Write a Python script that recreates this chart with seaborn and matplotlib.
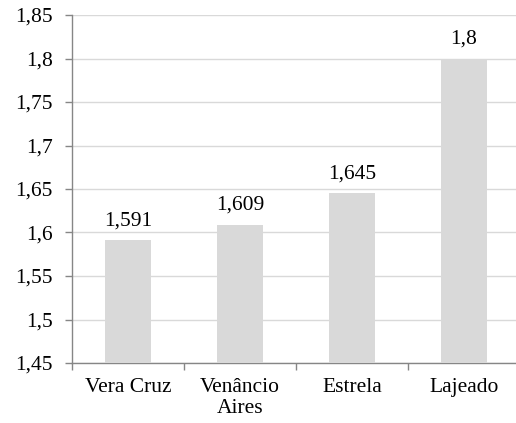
import matplotlib
matplotlib.use("Agg")
import matplotlib.pyplot as plt
import seaborn as sns
import pandas as pd
from matplotlib.ticker import FixedLocator

categories = ["Vera Cruz", "Venâncio\nAires", "Estrela", "Lajeado"]
values = [1.591, 1.609, 1.645, 1.8]
value_labels = ["1,591", "1,609", "1,645", "1,8"]
yticks = [1.45, 1.5, 1.55, 1.6, 1.65, 1.7, 1.75, 1.8, 1.85]
ytick_labels = ["1,45", "1,5", "1,55", "1,6", "1,65", "1,7", "1,75", "1,8", "1,85"]

sns.set_theme(style="white")
plt.rcParams['font.family'] = ['Liberation Serif', 'DejaVu Serif']

df = pd.DataFrame({"cat": categories, "val": values})

fig = plt.figure(figsize=(5.16, 4.23), dpi=100)
W, H = 516, 423
ax = fig.add_axes([72 / W, (H - 363) / H, (520 - 72) / W, (363 - 15) / H])

sns.barplot(data=df, x="cat", y="val", color="#d9d9d9", width=0.41,
            saturation=1, ax=ax, zorder=3)
for p in ax.patches:
    p.set_edgecolor("none")

FS = 15.5
ax.set_ylim(1.45, 1.85)
ax.set_xlim(-0.5, 3.5)
ax.set_yticks(yticks)
ax.set_yticklabels(ytick_labels, fontsize=FS, color="#000000")
ax.yaxis.grid(True, color="#d9d9d9", linewidth=1, zorder=0)
ax.set_axisbelow(True)

ax.set_xticks(range(len(categories)))
ax.set_xticklabels(categories, fontsize=FS, color="#000000", linespacing=1.1)
ax.xaxis.set_minor_locator(FixedLocator([-0.5, 0.5, 1.5, 2.5]))
ax.tick_params(axis="x", which="major", length=0, pad=11)
ax.tick_params(axis="x", which="minor", length=5, color="#868686", width=1, direction="out", bottom=True)
ax.tick_params(axis="y", length=5, color="#868686", width=1, direction="out", left=True, pad=9)

for s in ["top", "right"]:
    ax.spines[s].set_visible(False)
for s in ["left", "bottom"]:
    ax.spines[s].set_color("#868686")
    ax.spines[s].set_linewidth(1)

ax.set_xlabel("")
ax.set_ylabel("")

for i, (v, lab) in enumerate(zip(values, value_labels)):
    ax.annotate(lab, (i, v), xytext=(0, 7), textcoords="offset points",
                ha="center", va="bottom", fontsize=FS, color="#000000")

fig.savefig("out.png", dpi=100)
